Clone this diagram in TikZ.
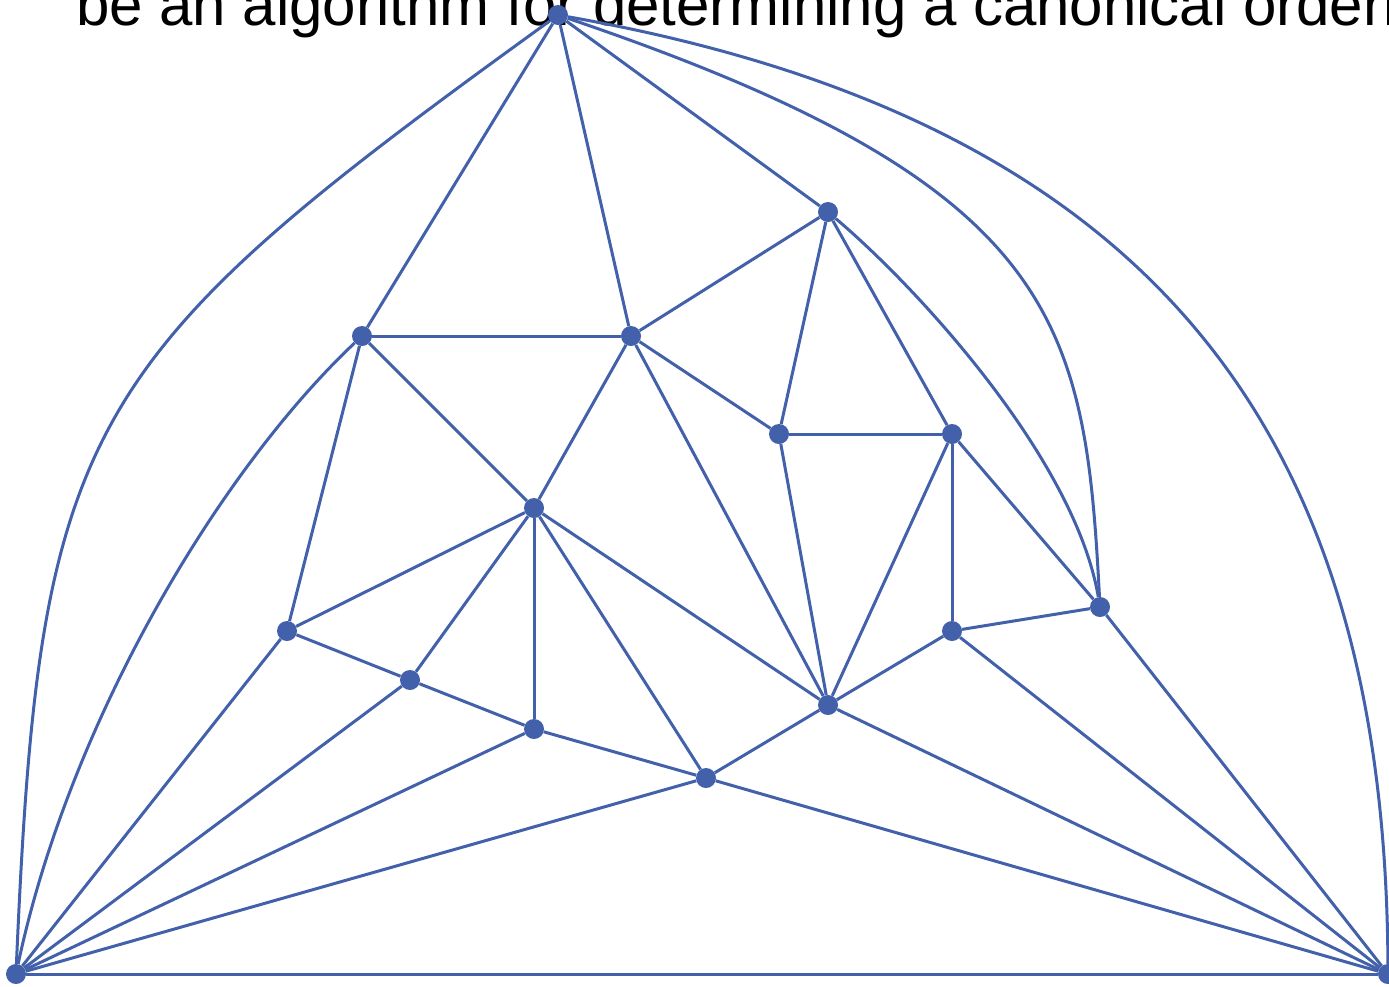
\documentclass[tikz,border=0pt]{standalone}
\usepackage{fontspec}
\setmainfont{Liberation Sans}
\definecolor{gblue}{RGB}{66,97,170}
\begin{document}
\begin{tikzpicture}[x=1pt,y=-1pt,
  edge/.style={draw=gblue, line width=3pt},
  vtx/.style={circle, fill=gblue, inner sep=0pt, minimum size=20pt}]
\useasboundingbox (0,0) rectangle (1389,986);
\clip (0,0) rectangle (1389,986);
\node[anchor=base west, inner sep=0pt, font=\fontsize{60}{72}\selectfont] (title) at (76,25) {be an algorithm for determining a canonical ordering};
\node[vtx] (T) at (558,15) {};
\node[vtx] (A) at (828,212) {};
\node[vtx] (B) at (362,336) {};
\node[vtx] (C) at (631,336) {};
\node[vtx] (D) at (779,434) {};
\node[vtx] (E) at (952,434) {};
\node[vtx] (F) at (534,508) {};
\node[vtx] (G) at (1100,607) {};
\node[vtx] (H) at (287,631) {};
\node[vtx] (I) at (952,631) {};
\node[vtx] (J) at (410,680) {};
\node[vtx] (K) at (828,705) {};
\node[vtx] (M) at (534,729) {};
\node[vtx] (N) at (706,778) {};
\node[vtx] (L) at (16,974) {};
\node[vtx] (R) at (1388,974) {};
\foreach \a/\b in {T/B,T/C,T/A,B/C,B/F,B/H,C/A,C/D,C/F,C/K,A/D,A/E,D/E,D/K,
  E/G,E/I,E/K,F/H,F/J,F/M,F/N,F/K,G/I,G/R,H/J,H/L,I/K,I/R,J/M,J/L,K/N,K/R,
  M/N,M/L,N/L,N/R,L/R}
  \draw[edge] (\a) -- (\b);
\draw[edge] (T) .. controls (80,360) and (40,420) .. (L);
\draw[edge] (T) .. controls (1180,125) and (1385,460) .. (R);
\draw[edge] (T) .. controls (1060,185) and (1085,320) .. (G);
\draw[edge] (A) .. controls (920,290) and (1075,460) .. (G);
\draw[edge] (B) .. controls (220,470) and (70,720) .. (L);
\end{tikzpicture}
\end{document}
